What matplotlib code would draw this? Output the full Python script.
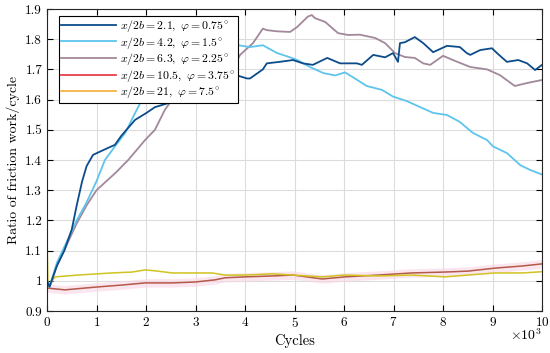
import numpy as np
import matplotlib
matplotlib.use("Agg")
import matplotlib.pyplot as plt
from matplotlib.lines import Line2D

plt.rcParams['font.family'] = 'serif'
plt.rcParams['font.serif'] = ['cmr10', 'DejaVu Serif']
plt.rcParams['mathtext.fontset'] = 'cm'
plt.rcParams['axes.formatter.use_mathtext'] = True

# cycles in thousands, ratio of friction work per cycle
x1 = [0, 0.05, 0.2, 0.35, 0.5, 0.6, 0.71, 0.8, 0.93, 1.1, 1.3, 1.37, 1.5, 1.78, 2.0, 2.18, 2.48,
      2.7, 2.95, 3.3, 3.6, 3.84, 4.04, 4.1, 4.36, 4.44, 4.7, 4.97, 5.17, 5.37, 5.66, 5.92, 6.08,
      6.26, 6.36, 6.59, 6.83, 6.99, 7.09, 7.13, 7.23, 7.43, 7.6, 7.8, 8.08, 8.34, 8.48, 8.55,
      8.75, 8.99, 9.09, 9.29, 9.52, 9.7, 9.86, 10.0]
y1 = [1.0, 0.98, 1.05, 1.1, 1.17, 1.25, 1.33, 1.38, 1.417, 1.43, 1.445, 1.45, 1.48, 1.533, 1.555,
      1.575, 1.59, 1.635, 1.675, 1.672, 1.68, 1.68, 1.67, 1.67, 1.70, 1.72, 1.725, 1.731, 1.72,
      1.715, 1.738, 1.72, 1.72, 1.72, 1.715, 1.748, 1.74, 1.754, 1.725, 1.787, 1.79, 1.807,
      1.787, 1.757, 1.778, 1.774, 1.754, 1.748, 1.764, 1.77, 1.754, 1.725, 1.731, 1.72, 1.698,
      1.715]

x2 = [0, 0.05, 0.2, 0.4, 0.6, 0.8, 1.0, 1.17, 1.35, 1.58, 1.78, 1.92, 2.3, 2.8, 3.3, 3.6, 3.86,
      4.1, 4.36, 4.65, 4.91, 5.07, 5.31, 5.58, 5.82, 6.02, 6.22, 6.46, 6.77, 6.99, 7.27, 7.54,
      7.8, 8.08, 8.34, 8.6, 8.89, 9.01, 9.29, 9.56, 9.76, 10.0]
y2 = [1.0, 0.98, 1.06, 1.13, 1.2, 1.26, 1.33, 1.40, 1.44, 1.49, 1.556, 1.60, 1.66, 1.72, 1.75,
      1.76, 1.78, 1.774, 1.78, 1.754, 1.74, 1.73, 1.708, 1.688, 1.68, 1.69, 1.67, 1.645, 1.632,
      1.61, 1.595, 1.575, 1.556, 1.549, 1.526, 1.49, 1.466, 1.445, 1.423, 1.383, 1.367, 1.352]

x3 = [0, 0.05, 0.2, 0.4, 0.6, 0.8, 1.0, 1.2, 1.4, 1.64, 1.98, 2.18, 2.38, 2.55, 2.9, 3.3, 3.6,
      3.84, 3.9, 4.16, 4.36, 4.44, 4.65, 4.91, 5.05, 5.27, 5.35, 5.41, 5.62, 5.88, 6.08, 6.32,
      6.63, 6.83, 7.03, 7.23, 7.43, 7.6, 7.74, 8.0, 8.2, 8.55, 8.89, 9.15, 9.45, 9.7, 10.0]
y3 = [1.0, 0.98, 1.05, 1.12, 1.19, 1.25, 1.30, 1.33, 1.36, 1.40, 1.466, 1.50, 1.566, 1.605,
      1.64, 1.68, 1.71, 1.73, 1.748, 1.787, 1.835, 1.83, 1.826, 1.824, 1.84, 1.875, 1.88, 1.87,
      1.857, 1.82, 1.814, 1.815, 1.804, 1.787, 1.754, 1.741, 1.738, 1.72, 1.715, 1.745, 1.731,
      1.708, 1.700, 1.681, 1.645, 1.655, 1.665]

x4 = [0, 0.36, 0.97, 1.52, 1.98, 2.53, 2.99, 3.39, 3.6, 4.0, 4.55, 4.97, 5.56, 6.02, 6.69,
      7.37, 8.04, 8.5, 9.05, 9.6, 10.0]
y4 = [0.976, 0.97, 0.979, 0.986, 0.993, 0.993, 0.996, 1.003, 1.01, 1.013, 1.016, 1.019, 1.006,
      1.013, 1.019, 1.026, 1.029, 1.032, 1.042, 1.049, 1.056]

x5 = [0, 0.02, 0.16, 0.63, 1.31, 1.72, 1.98, 2.18, 2.53, 2.99, 3.33, 3.6, 4.0, 4.55, 4.97, 5.56,
      6.02, 6.69, 7.37, 8.04, 8.5, 9.05, 9.6, 10.0]
y5 = [1.14, 0.98, 1.013, 1.019, 1.026, 1.029, 1.036, 1.033, 1.026, 1.026, 1.026, 1.019, 1.019,
      1.023, 1.019, 1.013, 1.019, 1.016, 1.019, 1.013, 1.019, 1.026, 1.026, 1.03]

band_half = 0.014

labels = [r'$x/2b = 2.1,\ \varphi = 0.75^{\circ}$',
          r'$x/2b = 4.2,\ \varphi = 1.5^{\circ}$',
          r'$x/2b = 6.3,\ \varphi = 2.25^{\circ}$',
          r'$x/2b = 10.5,\ \varphi = 3.75^{\circ}$',
          r'$x/2b = 21,\ \varphi = 7.5^{\circ}$']
line_colors = ['#0c4c8a', '#5ec4ec', '#a2889b', '#b35a48', '#d1c320']
legend_colors = ['#0c4c8a', '#5ec4ec', '#a2889b', '#e8404a', '#f6b443']

fig = plt.figure(figsize=(5.5, 3.53), dpi=100)
ax = fig.add_axes([0.0855, 0.119, 0.9, 0.8555])

ax.fill_between(x4, np.array(y4) - band_half, np.array(y4) + band_half,
                color='#f9d6e6', alpha=0.6, lw=0)
ax.plot(x4, y4, color=line_colors[3], lw=1.1)
ax.plot(x5, y5, color=line_colors[4], lw=1.1)
ax.plot(x3, y3, color=line_colors[2], lw=1.3)
ax.plot(x2, y2, color=line_colors[1], lw=1.3)
ax.plot(x1, y1, color=line_colors[0], lw=1.3)

ax.set_xlim(0, 10)
ax.set_ylim(0.9, 1.9)
ax.set_xticks(np.arange(0, 11, 1))
ax.set_yticks(np.arange(0.9, 1.91, 0.1))
ax.set_yticklabels(['0.9', '1', '1.1', '1.2', '1.3', '1.4', '1.5', '1.6', '1.7', '1.8', '1.9'])
ax.grid(True, color='#dcdcdc', lw=0.8)
ax.set_axisbelow(True)
ax.tick_params(direction='in', top=True, right=True, labelsize=9.5, length=4)
for s in ax.spines.values():
    s.set_linewidth(0.8)
    s.set_color('#262626')

ax.set_xlabel('Cycles', fontsize=10.5, labelpad=3)
ax.set_ylabel('Ratio of friction work/cycle', fontsize=10, labelpad=4)
ax.text(1.0, -0.055, r'$\times 10^{3}$', transform=ax.transAxes, ha='right', va='top',
        fontsize=10)

handles = [Line2D([0], [0], color=c, lw=1.3) for c in legend_colors]
leg = ax.legend(handles, labels, loc='upper left', bbox_to_anchor=(0.024, 0.978),
                fontsize=8.5, handlelength=4.6, fancybox=False, framealpha=1,
                edgecolor='black', borderpad=0.2, labelspacing=0.05, handletextpad=0.4,
                borderaxespad=0)
leg.get_frame().set_linewidth(0.8)

fig.savefig('out.png', dpi=100)
